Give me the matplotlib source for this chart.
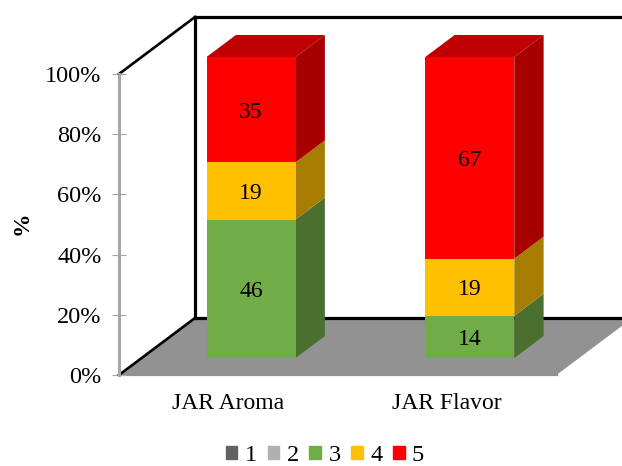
import matplotlib
matplotlib.use("Agg")
import matplotlib.pyplot as plt
from matplotlib.patches import Patch
from matplotlib.ticker import PercentFormatter

plt.rcParams['font.family'] = ['Liberation Serif', 'DejaVu Serif']

categories = ["JAR Aroma", "JAR Flavor"]
series_names = ["1", "2", "3", "4", "5"]
values_1 = [0, 0]
values_2 = [0, 0]
values_3 = [46, 14]
values_4 = [19, 19]
values_5 = [35, 67]
front_colors = ["#636363", "#B0B0B0", "#70AD47", "#FFC000", "#FF0000"]
side_colors = ["#424242", "#757575", "#4A6F2F", "#A67D00", "#A60000"]
top_colors = ["#4A4A4A", "#848484", "#547F35", "#BF9000", "#C00000"]

W, H = 622, 466
fig = plt.figure(figsize=(W / 100, H / 100), dpi=100)
ax = fig.add_axes([119 / W, (H - 375) / H, (556.5 - 119) / W, 301 / H])
ax.set_xlim(-0.5, 1.5)
ax.set_ylim(0, 100)

# oblique projection: full chart depth in data units
DX = 76 / 218.75
DY = 57 / 3.01


def proj(x, y, d):
    return x + DX * d, y + DY * d


def face(pts, color, z):
    xs, ys = zip(*[proj(*p) for p in pts])
    ax.fill(xs, ys, color=color, lw=0, zorder=z, clip_on=False)


def line(p, q, color, lw, z):
    a, b = proj(*p), proj(*q)
    ax.plot([a[0], b[0]], [a[1], b[1]], color=color, lw=lw, zorder=z,
            clip_on=False, solid_capstyle='projecting')


# floor and walls
face([(-0.5, 0, 0), (1.5, 0, 0), (1.5, 0, 1), (-0.5, 0, 1)], "#929292", 1)
line((-0.5, 0, 0), (1.5, 0, 0), "#929292", 1.6, 1)
line((-0.5, 0, 1), (1.5, 0, 1), "black", 2.3, 1.5)
line((-0.5, 0, 1), (-0.5, 100, 1), "black", 2.3, 1.5)
line((-0.5, 100, 1), (1.5, 100, 1), "black", 2.3, 1.5)
line((-0.5, 0, 0), (-0.5, 0, 1), "black", 1.9, 1.6)
line((-0.5, 100, 0), (-0.5, 100, 1), "black", 1.9, 1.6)

# stacked bars
BW = 0.407
D0, D1 = 0.298, 0.684
all_series = [values_1, values_2, values_3, values_4, values_5]
for i, cat in enumerate(categories):
    x0, x1 = i - BW / 2, i + BW / 2
    base = 0
    for k, vals in enumerate(all_series):
        v = vals[i]
        if v == 0:
            continue
        top = base + v
        z = 2 + k * 0.1
        face([(x1, base, D0), (x1, base, D1), (x1, top, D1), (x1, top, D0)], side_colors[k], z)
        face([(x0, base, D0), (x1, base, D0), (x1, top, D0), (x0, top, D0)], front_colors[k], z + 0.01)
        cx, cy = proj(i, base + v / 2, D0)
        ax.text(cx, cy, str(v), ha='center', va='center_baseline', fontsize=17, color='black', zorder=5)
        base = top
    last = [k for k, vals in enumerate(all_series) if vals[i] > 0][-1]
    face([(x0, base, D0), (x1, base, D0), (x1, base, D1), (x0, base, D1)], top_colors[last], 3)

# axes
for s in ['top', 'right', 'bottom']:
    ax.spines[s].set_visible(False)
ax.spines['left'].set_color('#A6A6A6')
ax.spines['left'].set_linewidth(2.2)
ax.set_yticks([0, 20, 40, 60, 80, 100])
ax.yaxis.set_major_formatter(PercentFormatter(100, decimals=0))
ax.tick_params(axis='y', direction='inout', length=10, width=0.8, color='#A6A6A6',
               labelsize=17.5, pad=7.5)
ax.set_xticks(range(len(categories)), categories)
ax.tick_params(axis='x', length=0, labelsize=17, pad=13)
ax.set_ylabel("%", fontsize=17, fontweight='bold')
ax.yaxis.set_label_coords(-0.197, 0.505)

handles = [Patch(color=c, label=n) for c, n in zip(front_colors, series_names)]
fig.legend(handles=handles, loc='lower center', bbox_to_anchor=(325 / W, -0.026), ncol=5,
           frameon=False, fontsize=17.5, handlelength=0.48, handleheight=0.48,
           handletextpad=0.3, columnspacing=0.44, borderpad=0)

fig.savefig("out.png", dpi=100)
